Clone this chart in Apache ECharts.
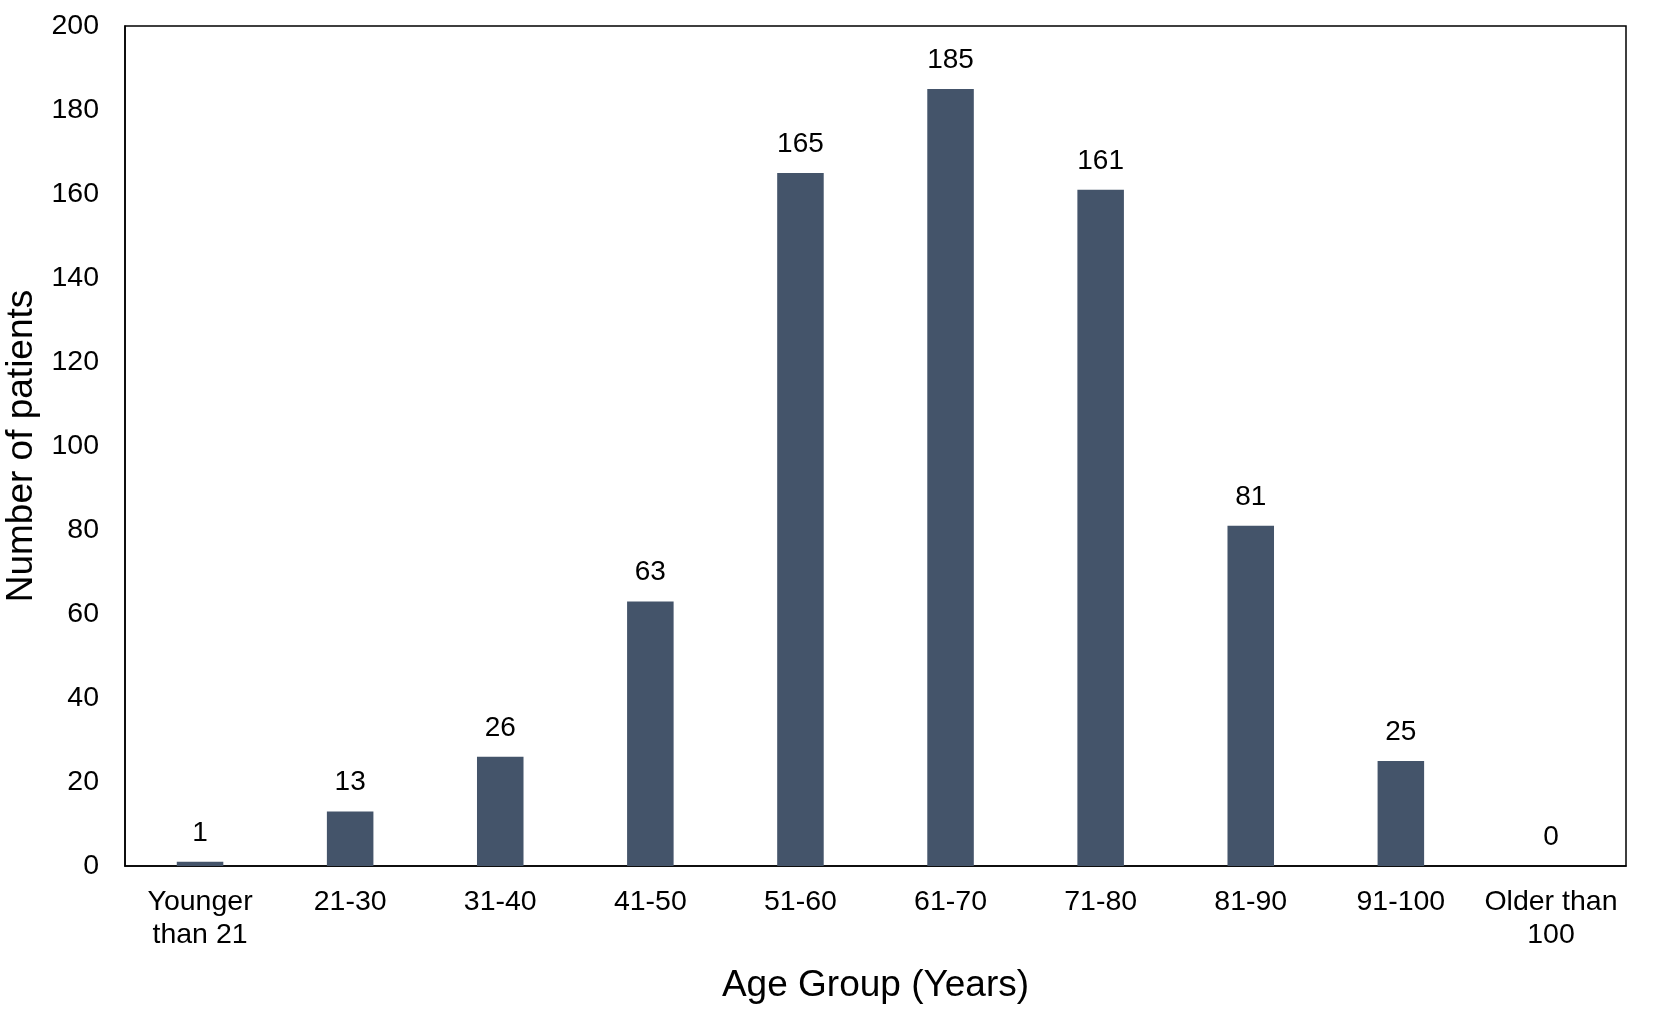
<!DOCTYPE html>
<html>
<head>
<meta charset="utf-8">
<script src="https://cdn.jsdelivr.net/npm/echarts@6/dist/echarts.min.js"></script>
<style>
html,body{margin:0;padding:0;background:#fff;}
#main{width:1654px;height:1024px;}
</style>
</head>
<body>
<div id="main"></div>
<script>
var categories = ['Younger\nthan 21', '21-30', '31-40', '41-50', '51-60', '61-70', '71-80', '81-90', '91-100', 'Older than\n100'];
var patients = [1, 13, 26, 63, 165, 185, 161, 81, 25, 0];
var yTicks = {min: 0, max: 200, interval: 20};

var chart = echarts.init(document.getElementById('main'));
var font = 'Liberation Sans, Arial, sans-serif';
chart.setOption({
  animation: false,
  backgroundColor: '#fff',
  grid: {left: 125, right: 28, top: 26, bottom: 158, show: true, borderColor: '#000', borderWidth: 1.5, backgroundColor: 'transparent', outerBoundsMode: 'none', containLabel: false},
  xAxis: {
    type: 'category',
    data: categories,
    name: 'Age Group (Years)',
    nameLocation: 'middle',
    nameGap: 101,
    nameTextStyle: {fontFamily: font, fontSize: 37, color: '#000'},
    axisLine: {lineStyle: {color: '#000', width: 1.5}},
    axisTick: {show: false},
    axisLabel: {fontFamily: font, fontSize: 28.5, color: '#000', margin: 20, lineHeight: 33, interval: 0}
  },
  yAxis: {
    type: 'value',
    min: yTicks.min, max: yTicks.max, interval: yTicks.interval,
    name: 'Number of patients',
    nameLocation: 'middle',
    nameGap: 85,
    nameTextStyle: {fontFamily: font, fontSize: 37, color: '#000'},
    axisLine: {show: true, lineStyle: {color: '#000', width: 1.5}},
    axisTick: {show: false},
    splitLine: {show: false},
    axisLabel: {fontFamily: font, fontSize: 28.5, color: '#000', margin: 26}
  },
  series: [{
    type: 'bar',
    data: patients,
    barWidth: '31%',
    itemStyle: {color: '#44546a'},
    label: {show: true, position: 'top', distance: 15, fontFamily: font, fontSize: 28, color: '#000'}
  }]
});
</script>
</body>
</html>
